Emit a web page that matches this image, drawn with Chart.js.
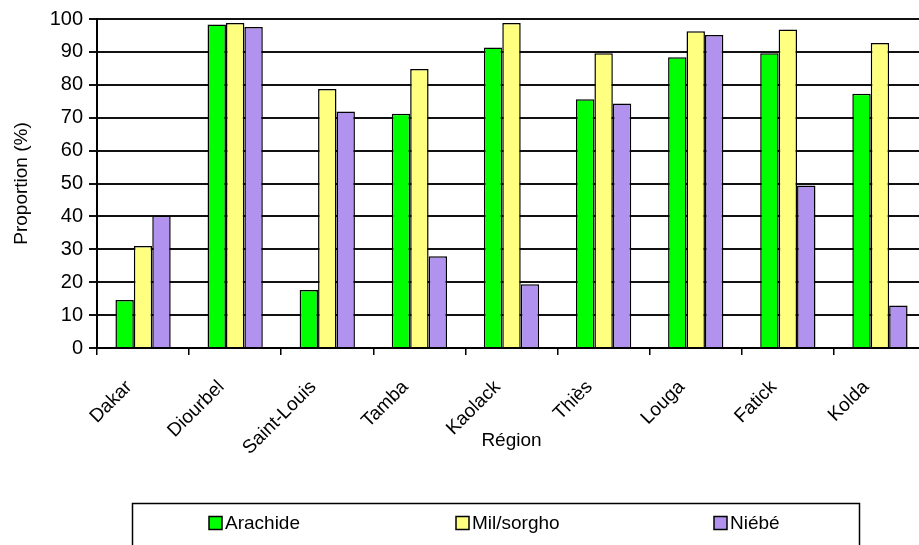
<!DOCTYPE html>
<html>
<head>
<meta charset="utf-8">
<script src="https://cdn.jsdelivr.net/npm/chart.js@4"></script>
<style>
  html, body { margin: 0; padding: 0; background: #fff; overflow: hidden; width: 919px; height: 545px; }
  #wrap { position: absolute; left: 0; top: 0; width: 926px; height: 545px; }
</style>
</head>
<body>
<div id="wrap"><canvas id="c"></canvas></div>
<script>
const categories = ['Dakar', 'Diourbel', 'Saint-Louis', 'Tamba', 'Kaolack', 'Thiès', 'Louga', 'Fatick', 'Kolda'];
const arachide   = [14.6, 98.3, 17.6, 71.2, 91.3, 75.6, 88.4, 89.6, 77.3];
const milSorgho  = [31.0, 98.8, 78.7, 84.8, 98.8, 89.6, 96.3, 96.8, 92.7];
const niebe      = [40.2, 97.6, 71.9, 27.9, 19.4, 74.3, 95.1, 49.4, 12.9];
const seriesNames = ['Arachide', 'Mil/sorgho', 'Niébé'];
const yTitle = 'Proportion (%)';
const xTitle = 'Région';

const FONT = '"Liberation Sans", Arial, sans-serif';

const boxLegend = {
  id: 'boxLegend',
  afterDraw(chart) {
    const ctx = chart.ctx;
    ctx.save();
    ctx.strokeStyle = '#000';
    ctx.lineWidth = 1.5;
    ctx.strokeRect(132.5, 503.5, 727, 60);
    const xs = [209, 456, 714];
    const yc = 523;
    ctx.font = '19px ' + FONT;
    ctx.textBaseline = 'middle';
    ctx.textAlign = 'left';
    chart.data.datasets.forEach((ds, i) => {
      ctx.fillStyle = ds.backgroundColor;
      ctx.fillRect(xs[i], yc - 6.5, 13, 13);
      ctx.lineWidth = 1.5;
      ctx.strokeStyle = '#000';
      ctx.strokeRect(xs[i], yc - 6.5, 13, 13);
      ctx.fillStyle = '#000';
      ctx.fillText(ds.label, xs[i] + 16, yc + 1);
    });
    ctx.restore();
  }
};

new Chart(document.getElementById('c'), {
  type: 'bar',
  data: {
    labels: categories,
    datasets: [
      { label: seriesNames[0], data: arachide,  backgroundColor: '#00FF00', borderColor: '#000', borderWidth: 1.5 },
      { label: seriesNames[1], data: milSorgho, backgroundColor: '#FFFF80', borderColor: '#000', borderWidth: 1.5 },
      { label: seriesNames[2], data: niebe,     backgroundColor: '#B192EF', borderColor: '#000', borderWidth: 1.5 }
    ]
  },
  options: {
    responsive: true,
    maintainAspectRatio: false,
    animation: false,
    layout: { padding: { top: 19, right: 0, bottom: 89, left: 0 } },
    datasets: { bar: { categoryPercentage: 0.6, barPercentage: 1.0 } },
    plugins: { legend: { display: false }, tooltip: { enabled: false } },
    scales: {
      x: {
        grid: { offset: true, drawOnChartArea: false, drawTicks: true, tickLength: 7, color: '#000', lineWidth: 1.5 },
        border: { display: true, color: '#000', width: 2 },
        ticks: { color: '#000', font: { family: FONT, size: 19 }, minRotation: 45, maxRotation: 45, autoSkip: false, labelOffset: -14, padding: 21 },
        title: { display: true, text: xTitle, color: '#000', font: { family: FONT, size: 19 }, padding: { top: 4, bottom: 4 } },
        afterFit(scale) { scale.height = 108; }
      },
      y: {
        min: 0, max: 100,
        ticks: { stepSize: 10, color: '#000', font: { family: FONT, size: 20 }, padding: 6 },
        grid: { color: '#111', lineWidth: 2, tickLength: 8, drawTicks: true },
        border: { display: true, color: '#000', width: 2 },
        title: { display: true, text: yTitle, color: '#000', font: { family: FONT, size: 19 }, padding: { top: 10, bottom: 0 } },
        afterFit(scale) { scale.width = 97; }
      }
    }
  },
  plugins: [boxLegend]
});
</script>
</body>
</html>
